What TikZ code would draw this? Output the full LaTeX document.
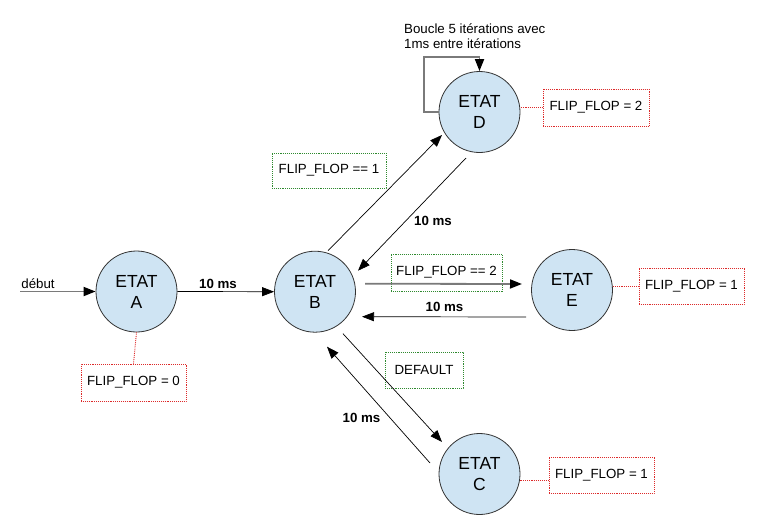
\documentclass[tikz,border=0pt]{standalone}
\usepackage{fontspec}
\setmainfont{Liberation Sans}
\usetikzlibrary{arrows.meta,calc}
\definecolor{statefill}{HTML}{CFE4F3}
\definecolor{ffred}{HTML}{DD2A2A}
\definecolor{ffgreen}{HTML}{2F8A2F}
\definecolor{graylink}{HTML}{7A7A7A}
\begin{document}
\begin{tikzpicture}[x=1pt,y=-1pt,
  state/.style={circle,draw=black!80,line width=0.8pt,fill=statefill,minimum size=81pt,inner sep=0pt,align=center,font=\fontsize{17.5}{21}\selectfont},
  ffr/.style={draw=ffred,densely dotted,line width=0.9pt,inner sep=0pt,font=\fontsize{13.3}{16}\selectfont},
  ffg/.style={draw=ffgreen,densely dotted,line width=0.9pt,inner sep=0pt,font=\fontsize{13.3}{16}\selectfont},
  link/.style={draw=black,line width=0.7pt,-{Triangle[length=12pt,width=9pt]}},
  glink/.style={draw=graylink,line width=1.8pt,-{Triangle[length=12pt,width=9pt,color=black]}},
  lbl/.style={font=\fontsize{13.3}{16}\selectfont\bfseries,inner sep=0pt},
  txt/.style={font=\fontsize{13.3}{15}\selectfont,inner sep=0pt}]
\useasboundingbox (0,0) rectangle (758,528);

% states
\node[state] (A) at (136.5,291.5) {ETAT\\A};
\node[state] (B) at (315,291.7) {ETAT\\B};
\node[state] (D) at (479.5,112) {ETAT\\D};
\node[state] (E) at (572,290) {ETAT\\E};
\node[state] (C) at (479.5,474) {ETAT\\C};

% output boxes
\node[ffr,minimum width=105pt,minimum height=37pt] (ffA) at (133.5,382.5) {FLIP\_FLOP = 0};
\node[ffr,minimum width=106pt,minimum height=37pt] (ffD) at (596,107.5) {FLIP\_FLOP = 2};
\node[ffr,minimum width=105pt,minimum height=36pt] (ffE) at (691.5,286) {FLIP\_FLOP = 1};
\node[ffr,minimum width=105pt,minimum height=36pt] (ffC) at (601.5,475) {FLIP\_FLOP = 1};

% condition boxes
\node[ffg,minimum width=114pt,minimum height=35pt] (g1) at (329,170.5) {FLIP\_FLOP == 1};
\node[ffg,minimum width=111pt,minimum height=37pt] (g2) at (446.5,272.5) {FLIP\_FLOP == 2};
\node[ffg,minimum width=78pt,minimum height=36pt] (g3) at (424,370) {DEFAULT};

% output connectors
\draw[ffr] (A.south) -- (ffA.north);
\draw[ffr] (ffD.west) -- (ffD.west -| D.east);
\draw[ffr] (ffE.west) -- (ffE.west -| E.east);
\draw[ffr] ($(ffC.west)+(0,5)$) -- ($(C.center)+(40,6)$);

% start
\coordinate (start) at (20,291.5);
\draw[glink] (start) -- (A.west);
\node[txt] (deb) at (38,284) {début};

% transitions
\draw[link] (A.east) -- (B.west);
\node[lbl] (l1) at (218,283.5) {10 ms};

\draw[link] ($(B.center)+(13,-41)$) -- ($(D.center)+(-37.5,23)$);
\draw[link] ($(D.center)+(-13.5,46)$) -- ($(B.center)+(43,-21)$);
\node[lbl] (l2) at (433,220.5) {10 ms};

\draw[glink] ($(B.center)+(50,-8)$) -- ($(E.center)+(-50,-6)$);
\draw[link] ($(E.center)+(-46,27)$) -- ($(B.center)+(47,25)$);
\node[lbl] (l3) at (444.5,307) {10 ms};

\draw[link] ($(B.center)+(28,42)$) -- ($(C.center)+(-37.5,-32)$);
\draw[link] ($(C.center)+(-49.5,-11)$) -- ($(B.center)+(12,55)$);
\node[lbl] (l4) at (361.5,417.5) {10 ms};

% loop on D
\draw[glink] (D.west) -- ++(-15,0) |- ($(D.north)+(0,-14)$) -- (D.north);
\node[txt,align=left,anchor=north west] (loop) at (404,23.5) {Boucle 5 itérations avec\\1ms entre itérations};
\end{tikzpicture}
\end{document}
